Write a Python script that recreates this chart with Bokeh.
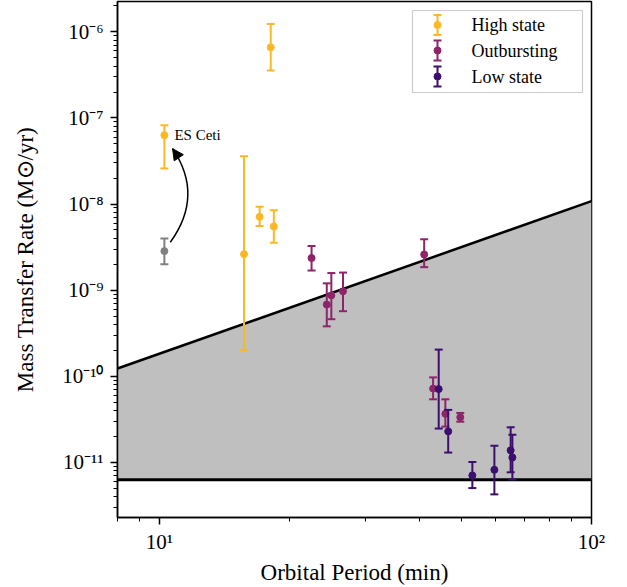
import math
from bokeh.plotting import figure
from bokeh.models import (FixedTicker, CustomJSTickFormatter, Range1d, LinearScale,
                          Arrow, NormalHead)
from bokeh.core.properties import value
from bokeh.embed import file_html
from bokeh.resources import INLINE

# ---------------- data ----------------
# High state
P_high = [10.27, 18.1, 15.7, 17.06, 18.4]
M_high = [6.3e-8, 6.6e-7, 2.62e-9, 7.1e-9, 5.5e-9]
up_high = [8.2e-8, 1.23e-6, 3.59e-8, 9.3e-9, 8.45e-9]
lo_high = [2.58e-8, 3.56e-7, 2.0e-10, 5.55e-9, 3.56e-9]

# Outbursting
P_out = [22.5, 41.0, 24.4, 25.0, 26.6, 43.0, 45.9, 49.7]
M_out = [2.36e-9, 2.6e-9, 6.8e-10, 8.7e-10, 9.7e-10, 7.2e-11, 3.66e-11, 3.34e-11]
up_out = [3.25e-9, 3.9e-9, 1.2e-9, 1.58e-9, 1.6e-9, 9.7e-11, 5.4e-11, 3.75e-11]
lo_out = [1.69e-9, 1.85e-9, 3.8e-10, 4.6e-10, 5.7e-10, 5.4e-11, 2.6e-11, 2.97e-11]

# Low state
P_low = [44.3, 46.6, 53.0, 59.6, 65.0, 65.6]
M_low = [7.1e-11, 2.29e-11, 7.06e-12, 8.2e-12, 1.38e-11, 1.14e-11]
up_low = [2.04e-10, 4.07e-11, 1.01e-11, 1.56e-11, 2.55e-11, 2.1e-11]
lo_low = [2.47e-11, 1.3e-11, 5.03e-12, 4.25e-12, 7.66e-12, 6.34e-12]

# ES Ceti earlier measurement (grey)
P_grey = [10.27]
M_grey = [2.84e-9]
up_grey = [3.98e-9]
lo_grey = [2.0e-9]

# boundary lines
line_P = [8.0, 100.0]
line_M = [1.23e-10, 1.08e-8]
floor_M = 6.3e-12

labels = ["High state", "Outbursting", "Low state"]
colors = ["#FBB825", "#8E2469", "#3C0F6E"]
GREY = "#808080"

x_ticks = [10, 100]
x_minor = [8, 9, 20, 30, 40, 50, 60, 70, 80, 90]
y_ticks = [1e-11, 1e-10, 1e-9, 1e-8, 1e-7, 1e-6]
y_minor = [k * 10.0 ** e for e in range(-12, -5) for k in range(2, 10)]

# annotation anchor points (data coords)
ARROW_START = (10.6, 3.6e-9)
ARROW_END = (10.73, 4.4e-8)
ARROW_CTRL = (12.7, 1.26e-8)

SERIF = "Liberation Serif"
FW, FH = 474, 516

p = figure(x_axis_type="log", y_axis_type="log",
           x_range=(8, 100), y_range=(2.29e-12, 2.25e-6),
           frame_width=FW, frame_height=FH,
           min_border_left=117, min_border_right=20,
           min_border_top=1, min_border_bottom=68,
           output_backend="svg", toolbar_location=None)

p.grid.visible = False
p.outline_line_color = "black"
p.outline_line_width = 1.5
p.background_fill_color = "white"

fmt = CustomJSTickFormatter(code="""
const e = Math.round(Math.log10(tick));
const m = {'-':'\u207b','0':'\u2070','1':'\u00b9','2':'\u00b2','3':'\u00b3',
           '4':'\u2074','5':'\u2075','6':'\u2076','7':'\u2077','8':'\u2078','9':'\u2079'};
return '10' + String(e).split('').map(c => m[c]).join('');
""")

p.xaxis.ticker = FixedTicker(ticks=x_ticks, minor_ticks=x_minor)
p.yaxis.ticker = FixedTicker(ticks=y_ticks, minor_ticks=y_minor)
for ax in (p.xaxis, p.yaxis):
    ax.formatter = fmt
    ax.axis_line_color = "black"
    ax.axis_line_width = 1.5
    ax.major_tick_line_color = "black"
    ax.minor_tick_line_color = "black"
    ax.major_tick_line_width = 1.5
    ax.minor_tick_line_width = 1
    ax.major_tick_out = 7
    ax.major_tick_in = 0
    ax.minor_tick_out = 4
    ax.minor_tick_in = 0
    ax.major_label_text_font = SERIF
    ax.major_label_text_font_size = "21px"
    ax.major_label_text_color = "black"
    ax.axis_label_text_font = SERIF
    ax.axis_label_text_font_size = "23px"
    ax.axis_label_text_font_style = "normal"
    ax.axis_label_text_color = "black"

p.xaxis.axis_label = "Orbital Period (min)"
p.yaxis.axis_label = "Mass Transfer Rate (M\u2299/yr)"
p.xaxis.major_label_standoff = 5
p.yaxis.major_label_standoff = 7
p.xaxis.axis_label_standoff = 3
p.yaxis.axis_label_standoff = 21

# shaded region and boundary lines
p.varea(x=line_P, y1=[floor_M] * len(line_P), y2=line_M, fill_color="#bfbfbf")
p.line(x=line_P, y=line_M, line_color="black", line_width=2.5)
p.line(x=line_P, y=[floor_M] * len(line_P), line_color="black", line_width=3)


def errorbar(P, M, up, lo, color):
    p.segment(x0=P, y0=lo, x1=P, y1=up, line_color=color, line_width=2)
    p.scatter(x=P + P, y=up + lo, marker="dash", size=8,
              line_color=color, line_width=2)
    p.scatter(x=P, y=M, marker="circle", size=7,
              fill_color=color, line_color=color, line_width=1)


errorbar(P_grey, M_grey, up_grey, lo_grey, GREY)

# curved arrow from the earlier measurement to the high state
p.quadratic(x0=[ARROW_START[0]], y0=[ARROW_START[1]],
            x1=[ARROW_END[0]], y1=[ARROW_END[1]],
            cx=[ARROW_CTRL[0]], cy=[ARROW_CTRL[1]],
            line_color="black", line_width=1.5)
lx_e, ly_e = math.log10(ARROW_END[0]), math.log10(ARROW_END[1])
lx_c, ly_c = math.log10(ARROW_CTRL[0]), math.log10(ARROW_CTRL[1])
t = 0.15
hx = 10 ** (lx_e - t * (lx_e - lx_c))
hy = 10 ** (ly_e - t * (ly_e - ly_c))
p.add_layout(Arrow(end=NormalHead(size=11, fill_color="black", line_color="black"),
                   x_start=hx, y_start=hy, x_end=ARROW_END[0], y_end=ARROW_END[1],
                   line_color="black", line_width=1.5))

errorbar(P_high, M_high, up_high, lo_high, colors[0])
errorbar(P_out, M_out, up_out, lo_out, colors[1])
errorbar(P_low, M_low, up_low, lo_low, colors[2])

p.text(x=[P_high[0]], y=[M_high[0]], text=["ES Ceti"], x_offset=10,
       text_baseline="middle", text_align="left",
       text_font=value(SERIF), text_font_size="15px", text_color="black")

# ---------------- legend (drawn in frame-pixel space) ----------------
p.extra_x_ranges = {"lx": Range1d(0, FW)}
p.extra_y_ranges = {"ly": Range1d(0, FH)}
p.extra_x_scales = {"lx": LinearScale()}
p.extra_y_scales = {"ly": LinearScale()}
LEG = dict(x_range_name="lx", y_range_name="ly")

box_l, box_r, box_t, box_b = 295, 465, 507, 425
row_y = [492.5, 467, 441]
icon_x = 320
text_x = 354
half = 10

p.quad(left=[box_l], right=[box_r], top=[box_t], bottom=[box_b],
       fill_color="white", fill_alpha=0.85, line_color="#cccccc", line_width=1.2, **LEG)
ix = [icon_x] * 3
p.segment(x0=ix, y0=[y - half for y in row_y], x1=ix, y1=[y + half for y in row_y],
          line_color=colors, line_width=2, **LEG)
p.scatter(x=ix + ix, y=[y + half for y in row_y] + [y - half for y in row_y],
          marker="dash", size=8, line_color=colors + colors, line_width=2, **LEG)
p.scatter(x=ix, y=row_y, marker="circle", size=7, fill_color=colors,
          line_color=colors, **LEG)
p.text(x=[text_x] * 3, y=row_y, text=labels, text_baseline="middle",
       text_font=value(SERIF), text_font_size="18px", text_color="black", **LEG)

open("out.html", "w").write(file_html(p, INLINE))
